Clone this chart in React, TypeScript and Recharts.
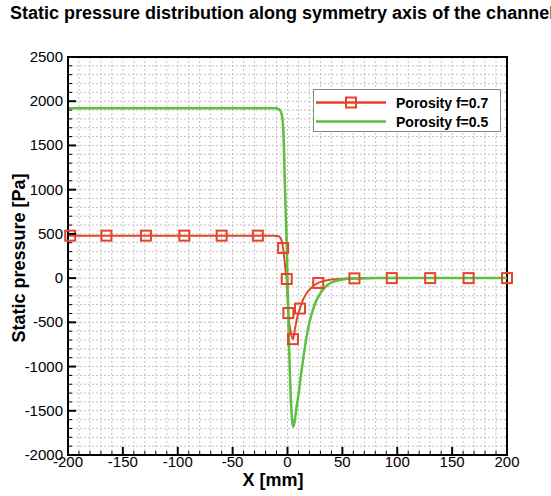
import { CartesianGrid, ComposedChart, Legend, Line, ReferenceArea, Scatter, XAxis, YAxis } from 'recharts';

const FONT = '"Liberation Sans", Arial, sans-serif';
const RED = '#e3452b';
const GREEN = '#5dbf40';

const X_MAJOR = [-200, -150, -100, -50, 0, 50, 100, 150, 200];
const Y_MAJOR = [-2000, -1500, -1000, -500, 0, 500, 1000, 1500, 2000, 2500];
const X_TICKS = Array.from({ length: 41 }, (_, i) => -200 + i * 10);
const Y_TICKS = Array.from({ length: 46 }, (_, i) => -2000 + i * 100);

// porosity f=0.7 — curve and its symbols
const f07Line = [
  { x: -200, y: 480 }, { x: -12, y: 480 }, { x: -8, y: 474 }, { x: -5.5, y: 430 },
  { x: -4, y: 340 }, { x: -2.5, y: 170 }, { x: -1.5, y: 60 }, { x: -0.7, y: -10 },
  { x: 0, y: -200 }, { x: 0.8, y: -395 }, { x: 3, y: -610 }, { x: 5, y: -690 },
  { x: 7, y: -560 }, { x: 9, y: -440 }, { x: 11.4, y: -344 }, { x: 14, y: -250 },
  { x: 18, y: -160 }, { x: 22, y: -105 }, { x: 28, y: -55 }, { x: 35, y: -28 },
  { x: 45, y: -10 }, { x: 61, y: -3 }, { x: 80, y: 0 }, { x: 200, y: 0 },
];
const f07Markers = [
  { x: -198, y: 480 }, { x: -165, y: 480 }, { x: -129, y: 480 }, { x: -94, y: 480 },
  { x: -60, y: 480 }, { x: -27, y: 480 }, { x: -4, y: 340 }, { x: -0.7, y: -10 },
  { x: 0.8, y: -395 }, { x: 5, y: -690 }, { x: 11.4, y: -344 }, { x: 28, y: -55 },
  { x: 61, y: -3 }, { x: 95, y: 0 }, { x: 130, y: 0 }, { x: 165, y: 0 }, { x: 200, y: 0 },
];

// porosity f=0.5
const f05Line = [
  { x: -200, y: 1920 }, { x: -11, y: 1920 }, { x: -8, y: 1910 }, { x: -6, y: 1880 },
  { x: -4.5, y: 1790 }, { x: -3.5, y: 1600 }, { x: -2.5, y: 1100 }, { x: -1.5, y: 700 },
  { x: -0.5, y: 300 }, { x: 0.5, y: -300 }, { x: 1.5, y: -800 }, { x: 2.5, y: -1200 },
  { x: 3.5, y: -1480 }, { x: 4.5, y: -1640 }, { x: 5.3, y: -1680 }, { x: 6.5, y: -1620 },
  { x: 8, y: -1480 }, { x: 10, y: -1320 }, { x: 12, y: -1120 }, { x: 14, y: -940 },
  { x: 17, y: -690 }, { x: 20, y: -500 }, { x: 25, y: -290 }, { x: 30, y: -170 },
  { x: 35, y: -95 }, { x: 40, y: -50 }, { x: 50, y: -15 }, { x: 60, y: -3 },
  { x: 80, y: 0 }, { x: 200, y: 0 },
];

function XTick({ x, y, payload }: any) {
  const major = X_MAJOR.includes(payload.value);
  return (
    <g>
      <line x1={x} x2={x} y1={y} y2={y - (major ? 8 : 4)} stroke="#000" strokeWidth={major ? 2 : 1} />
      {major && (
        <text x={x} y={y + 12} textAnchor="middle" fontSize={15} fontFamily={FONT} fill="#000">
          {payload.value}
        </text>
      )}
    </g>
  );
}

function YTick({ x, y, payload }: any) {
  const major = Y_MAJOR.includes(payload.value);
  return (
    <g>
      <line x1={x} x2={x + (major ? 8 : 4)} y1={y} y2={y} stroke="#000" strokeWidth={major ? 2 : 1} />
      {major && (
        <text x={x - 5} y={y + 5} textAnchor="end" fontSize={15} fontFamily={FONT} fill="#000">
          {payload.value}
        </text>
      )}
    </g>
  );
}

function SquareMark({ cx, cy }: any) {
  return <rect x={cx - 5} y={cy - 5} width={10} height={10} fill="none" stroke={RED} strokeWidth={2} />;
}

function LegendRow({ color, label, marker }: { color: string; label: string; marker?: boolean }) {
  return (
    <div style={{ display: 'flex', alignItems: 'center', height: 19 }}>
      <svg width={82} height={19}>
        <line x1={2} x2={72} y1={9.5} y2={9.5} stroke={color} strokeWidth={2.5} />
        {marker && <rect x={32} y={4.5} width={10} height={10} fill="none" stroke={RED} strokeWidth={2} />}
      </svg>
      <span>{label}</span>
    </div>
  );
}

function LegendBox() {
  return (
    <div
      style={{
        boxSizing: 'border-box',
        width: 188,
        height: 43,
        paddingTop: 3,
        background: '#fff',
        border: '1px solid #888',
        fontFamily: FONT,
        fontWeight: 'bold',
        fontSize: 14,
        color: '#000',
      }}
    >
      <LegendRow color={RED} label="Porosity f=0.7" marker />
      <LegendRow color={GREEN} label="Porosity f=0.5" />
    </div>
  );
}

export default function App() {
  return (
    <div style={{ position: 'absolute', left: 0, top: 0, width: 551, height: 496, background: '#fff', overflow: 'hidden' }}>
      <div
        style={{
          position: 'absolute',
          left: 10,
          top: 3,
          whiteSpace: 'nowrap',
          fontFamily: FONT,
          fontWeight: 'bold',
          fontSize: 18,
          lineHeight: '20px',
          color: '#000',
        }}
      >
        Static pressure distribution along symmetry axis of the channel
      </div>
      <ComposedChart width={551} height={496} margin={{ top: 57, right: 44, bottom: 0, left: 0 }}>
        <CartesianGrid stroke="#c2c2c2" strokeDasharray="2 2" strokeWidth={1} />
        <XAxis
          type="number"
          dataKey="x"
          domain={[-200, 200]}
          ticks={X_TICKS}
          interval={0}
          height={41}
          tickSize={0}
          tickMargin={0}
          tickLine={false}
          axisLine={{ stroke: '#000', strokeWidth: 2 }}
          tick={<XTick />}
        />
        <YAxis
          type="number"
          dataKey="y"
          domain={[-2000, 2500]}
          ticks={Y_TICKS}
          interval={0}
          width={68}
          tickSize={0}
          tickMargin={0}
          tickLine={false}
          axisLine={{ stroke: '#000', strokeWidth: 2 }}
          tick={<YTick />}
        />
        <Line data={f07Line} dataKey="y" type="monotone" stroke={RED} strokeWidth={2} dot={false} isAnimationActive={false} />
        <Scatter data={f07Markers} dataKey="y" shape={<SquareMark />} isAnimationActive={false} />
        <Line data={f05Line} dataKey="y" type="monotone" stroke={GREEN} strokeWidth={2.5} dot={false} isAnimationActive={false} />
        <ReferenceArea x1={-200} x2={200} y1={-2000} y2={2500} fill="none" stroke="#000" strokeWidth={2} />
        <Legend
          layout="vertical"
          align="center"
          verticalAlign="middle"
          wrapperStyle={{ left: 313, top: 89, width: 188 }}
          content={<LegendBox />}
        />
      </ComposedChart>
      <div
        style={{
          position: 'absolute',
          left: 273,
          top: 480,
          transform: 'translate(-50%, -50%)',
          whiteSpace: 'nowrap',
          fontFamily: FONT,
          fontWeight: 'bold',
          fontSize: 18,
          lineHeight: '18px',
          color: '#000',
        }}
      >
        X [mm]
      </div>
      <div
        style={{
          position: 'absolute',
          left: 19,
          top: 258,
          transform: 'translate(-50%, -50%) rotate(-90deg)',
          whiteSpace: 'nowrap',
          fontFamily: FONT,
          fontWeight: 'bold',
          fontSize: 18,
          color: '#000',
        }}
      >
        Static pressure [Pa]
      </div>
    </div>
  );
}
